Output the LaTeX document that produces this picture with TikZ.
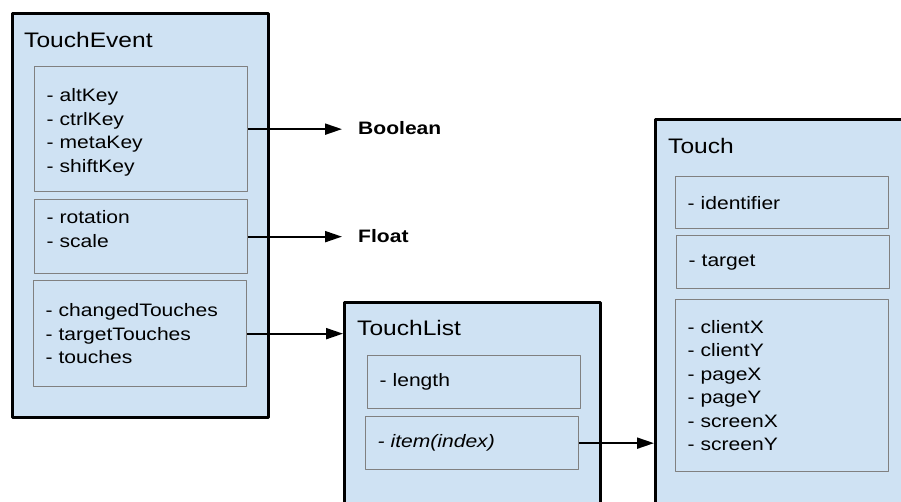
\documentclass[tikz,border=0pt]{standalone}
\usepackage{fontspec}
\setmainfont[FakeStretch=1.17]{Liberation Sans}
\usetikzlibrary{arrows.meta}
\definecolor{boxblue}{HTML}{CFE2F3}
\tikzset{
	outer/.style={draw=black, line width=2.5pt, fill=boxblue, anchor=north west, inner sep=0pt},
	field/.style={draw=black!50, line width=1.3pt, anchor=north west, align=left, text width=189pt, inner xsep=12pt, inner ysep=0pt, font=\fontsize{18}{23.5}\selectfont},
	title/.style={anchor=base west, inner sep=0pt, font=\fontsize{21}{25}\selectfont},
	kind/.style={anchor=west, inner sep=0pt, inner xsep=16pt, font=\fontsize{18}{23}\selectfont\bfseries},
}
\begin{document}
\begin{tikzpicture}[x=1pt, y=-1pt, line join=round, >={Triangle[length=17pt,width=11pt]}]
				\useasboundingbox (0,0) rectangle (901,501);
				\clip (0,0) rectangle (901,501);
				\node[outer, minimum width=256pt, minimum height=404pt] (event) at (11,12) {};
				\node[outer, minimum width=256pt, minimum height=240pt] (tlist) at (343,301) {};
				\node[outer, minimum width=270pt, minimum height=420pt] (touch) at (654,118) {};
				\node[title] (evtitle) at (24,47) {TouchEvent};
				\node[title] (listtitle) at (357,335) {TouchList};
				\node[title] (touchtitle) at (668,153) {Touch};
				\node[field, minimum height=125pt, text depth=68pt] (b1) at (34,66) {- altKey\\- ctrlKey\\- metaKey\\- shiftKey};
				\node[field, minimum height=74pt, text depth=39pt] (b2) at (34,199) {- rotation\\- scale};
				\node[field, minimum height=106pt] (b3) at (33,280) {- changedTouches\\- targetTouches\\- touches};
				\node[field, minimum height=53pt] (tl1) at (367,355) {- length};
				\node[field, minimum height=53pt] (tl2) at (365,416) {\itshape - item(index)};
				\node[field, minimum height=52pt] (t1) at (675,176) {- identifier};
				\node[field, minimum height=53pt] (t2) at (676,235) {- target};
				\node[field, minimum height=172pt] (t3) at (675,299) {- clientX\\- clientY\\- pageX\\- pageY\\- screenX\\- screenY};
				\node[kind] (bool) at (342,128) {Boolean};
				\node[kind] (float) at (342,236) {Float};
				\foreach \a/\b in {b1/bool,b2/float,b3/tlist,tl2/touch}
				\draw[->, line width=2pt] (\a.east) -- (\a.east -| \b.west);
		\end{tikzpicture}
\end{document}
